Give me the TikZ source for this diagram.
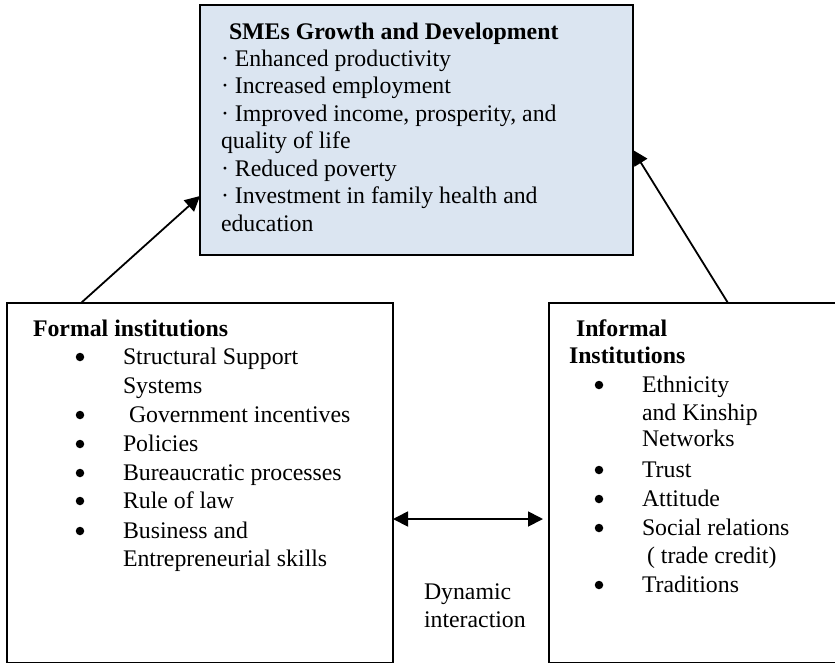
\documentclass[tikz,border=0pt]{standalone}
\usepackage{fontspec}
\setmainfont{Liberation Serif}
\usetikzlibrary{arrows.meta}
\definecolor{boxblue}{HTML}{DBE5F1}
\begin{document}
\begin{tikzpicture}[x=1pt,y=-1pt,
  frame/.style={draw=black,line width=1.8pt,inner sep=0pt,outer sep=0pt},
  txt/.style={anchor=base west,inner sep=0pt,outer sep=0pt,font=\fontsize{23.8}{28}\selectfont},
  hd/.style={txt,font=\fontsize{23.8}{28}\selectfont\bfseries},
  dot/.style={circle,fill=black,inner sep=0pt,outer sep=0pt,minimum size=8.5pt},
  link/.style={line width=1.8pt,-{Triangle[length=15pt,width=15pt]}},
  both/.style={line width=1.8pt,{Triangle[length=15pt,width=15pt]}-{Triangle[length=15pt,width=15pt]}}]
\useasboundingbox (0,0) rectangle (835,662);
\begin{scope}
\clip (0,0) rectangle (835,662);

% outcome box
\node[frame,fill=boxblue,minimum width=433pt,minimum height=250pt] (sme) at (416.5,130) {};
% institution boxes, running past the lower and right margins
\node[frame,minimum width=386pt,minimum height=360pt] (formal) at (200,483) {};
\node[frame,minimum width=291pt,minimum height=360pt] (informal) at (694.5,483) {};

% outcome text
\node[hd]  (s0) at (229,39)  {SMEs Growth and Development};
\node[txt] (s1) at (221,66)  {· Enhanced productivity};
\node[txt] (s2) at (221,93)  {· Increased employment};
\node[txt] (s3) at (221,121) {· Improved income, prosperity, and};
\node[txt] (s4) at (221,148) {quality of life};
\node[txt] (s5) at (221,176) {· Reduced poverty};
\node[txt] (s6) at (221,203) {· Investment in family health and};
\node[txt] (s7) at (221,231) {education};

% formal institutions
\node[hd]  (f0) at (33,336) {Formal institutions};
\foreach \n/\y in {a/364,b/422,c/451,d/480,e/508,f/538}
  \node[dot] (fb\n) at (80,\y-7) {};
\node[txt] (f1) at (123,364) {Structural Support};
\node[txt] (f2) at (123,393) {Systems};
\node[txt] (f3) at (129,422) {Government incentives};
\node[txt] (f4) at (123,451) {Policies};
\node[txt] (f5) at (123,480) {Bureaucratic processes};
\node[txt] (f6) at (123,508) {Rule of law};
\node[txt] (f7) at (123,538) {Business and};
\node[txt] (f8) at (123,566) {Entrepreneurial skills};

% informal institutions
\node[hd]  (i0) at (576,336) {Informal};
\node[hd]  (i1) at (569,363) {Institutions};
\foreach \n/\y in {a/392,b/477,c/506,d/535,e/592}
  \node[dot] (ib\n) at (599,\y-7) {};
\node[txt] (i2) at (642,392) {Ethnicity};
\node[txt] (i3) at (642,420) {and Kinship};
\node[txt] (i4) at (642,446) {Networks};
\node[txt] (i5) at (642,477) {Trust};
\node[txt] (i6) at (642,506) {Attitude};
\node[txt] (i7) at (642,535) {Social relations};
\node[txt] (i8) at (647,563) {( trade credit)};
\node[txt] (i9) at (642,592) {Traditions};

% interaction label
\node[txt] (d1) at (424,599) {Dynamic};
\node[txt] (d2) at (424,627) {interaction};

% connector end points on the box edges
\coordinate (fTop) at (81,303);
\coordinate (sLeft) at (200,196);
\coordinate (iTop) at (728,303);
\coordinate (sRight) at (633,150);
\coordinate (fSide) at (393,519);
\coordinate (iSide) at (543,519);

\draw[link] (fTop) -- (sLeft);
\draw[link] (iTop) -- (sRight);
\draw[both] (fSide) -- (iSide);
\end{scope}
\end{tikzpicture}
\end{document}
